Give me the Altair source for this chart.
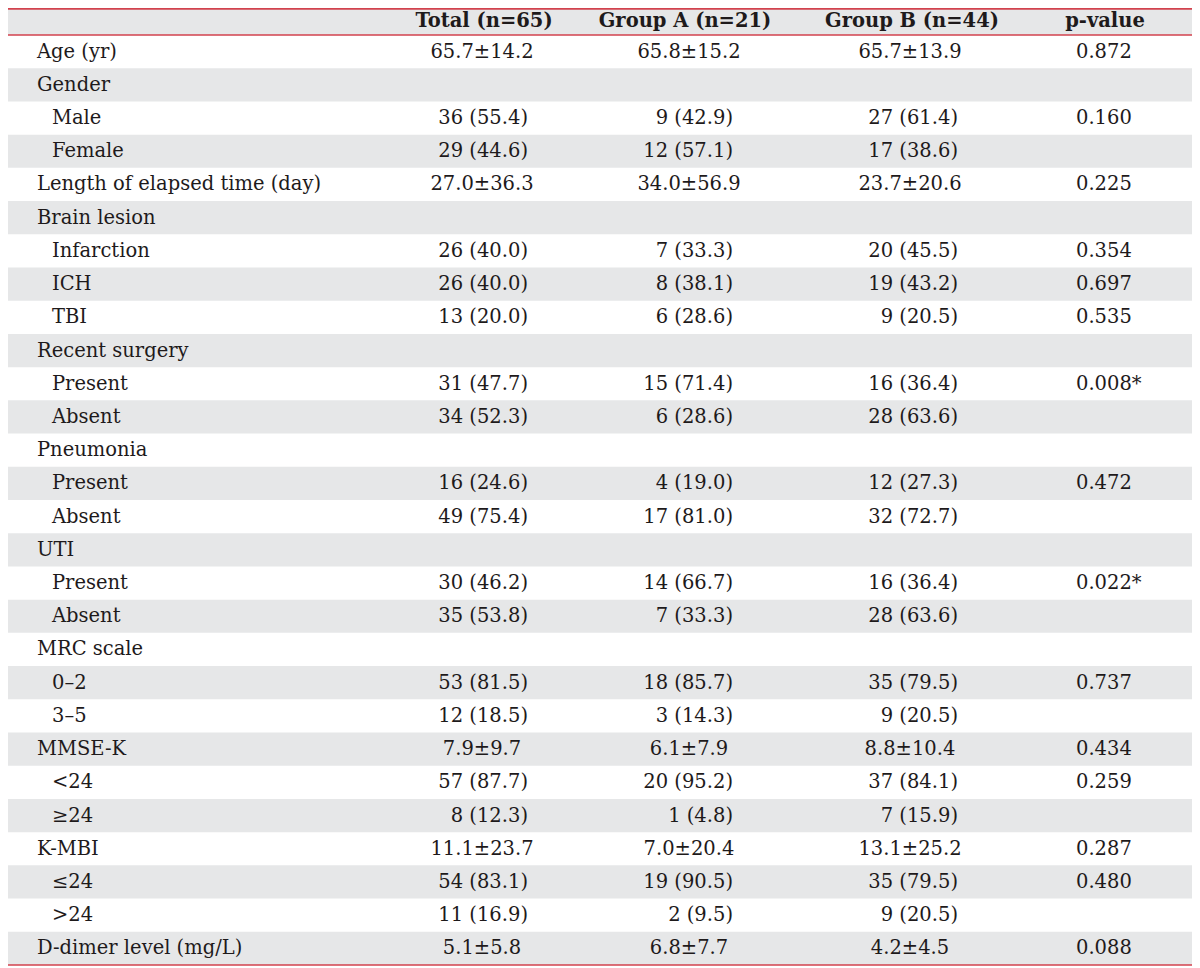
import altair as alt
import pandas as pd

# ---- table content ----
headers = ["Total (n=65)", "Group A (n=21)", "Group B (n=44)", "p-value"]

labels = [
    "Age (yr)", "Gender", "Male", "Female", "Length of elapsed time (day)",
    "Brain lesion", "Infarction", "ICH", "TBI", "Recent surgery", "Present",
    "Absent", "Pneumonia", "Present", "Absent", "UTI", "Present", "Absent",
    "MRC scale", "0\u20132", "3\u20135", "MMSE-K", "<24", "\u226524", "K-MBI",
    "\u226424", ">24", "D-dimer level (mg/L)",
]
indent = [0, 0, 1, 1, 0, 0, 1, 1, 1, 0, 1, 1, 0, 1, 1, 0, 1, 1, 0, 1, 1, 0, 1, 1, 0, 1, 1, 0]

total = [
    "65.7\u00b114.2", "", "36 (55.4)", "29 (44.6)", "27.0\u00b136.3", "",
    "26 (40.0)", "26 (40.0)", "13 (20.0)", "", "31 (47.7)", "34 (52.3)", "",
    "16 (24.6)", "49 (75.4)", "", "30 (46.2)", "35 (53.8)", "", "53 (81.5)",
    "12 (18.5)", "7.9\u00b19.7", "57 (87.7)", "8 (12.3)", "11.1\u00b123.7",
    "54 (83.1)", "11 (16.9)", "5.1\u00b15.8",
]
group_a = [
    "65.8\u00b115.2", "", "9 (42.9)", "12 (57.1)", "34.0\u00b156.9", "",
    "7 (33.3)", "8 (38.1)", "6 (28.6)", "", "15 (71.4)", "6 (28.6)", "",
    "4 (19.0)", "17 (81.0)", "", "14 (66.7)", "7 (33.3)", "", "18 (85.7)",
    "3 (14.3)", "6.1\u00b17.9", "20 (95.2)", "1 (4.8)", "7.0\u00b120.4",
    "19 (90.5)", "2 (9.5)", "6.8\u00b17.7",
]
group_b = [
    "65.7\u00b113.9", "", "27 (61.4)", "17 (38.6)", "23.7\u00b120.6", "",
    "20 (45.5)", "19 (43.2)", "9 (20.5)", "", "16 (36.4)", "28 (63.6)", "",
    "12 (27.3)", "32 (72.7)", "", "16 (36.4)", "28 (63.6)", "", "35 (79.5)",
    "9 (20.5)", "8.8\u00b110.4", "37 (84.1)", "7 (15.9)", "13.1\u00b125.2",
    "35 (79.5)", "9 (20.5)", "4.2\u00b14.5",
]
p_values = [
    "0.872", "", "0.160", "", "0.225", "", "0.354", "0.697", "0.535", "",
    "0.008*", "", "", "0.472", "", "", "0.022*", "", "", "0.737", "", "0.434",
    "0.259", "", "0.287", "0.480", "", "0.088",
]

# ---- layout (style only): anchor -> (x pixel, alignment, bold) ----
W, H = 1184, 960
n_rows = len(labels)
anchors = {
    "label": (29, "left", False),
    "sub": (44, "left", False),
    "tot_c": (474, "center", False),
    "tot_r": (520, "right", False),
    "a_c": (681, "center", False),
    "a_r": (725, "right", False),
    "b_c": (902, "center", False),
    "b_r": (950, "right", False),
    "p_l": (1068, "left", False),
    "h_tot": (476, "center", True),
    "h_a": (677, "center", True),
    "h_b": (904, "center", True),
    "h_p": (1097, "center", True),
}
Y_TOP = -0.313          # visible top of the header row (header band is a bit shorter)
Y_BOTTOM = n_rows + 0.59

FONT = "DejaVu Serif"
FS = 19.5
TXT = "#1e1a1b"
SHADE = "#e6e7e8"
RED = "#d2424e"

# ---- build tables ----
cells = []
for i, h in enumerate(headers):
    cells.append({"row": 0, "key": ["h_tot", "h_a", "h_b", "h_p"][i], "text": h})
for r in range(n_rows):
    row = r + 1
    cells.append({"row": row, "key": "sub" if indent[r] else "label", "text": labels[r]})
    for val, kc, kr in [(total[r], "tot_c", "tot_r"), (group_a[r], "a_c", "a_r"), (group_b[r], "b_c", "b_r")]:
        if val:
            cells.append({"row": row, "key": kc if "\u00b1" in val else kr, "text": val})
    if p_values[r]:
        cells.append({"row": row, "key": "p_l", "text": p_values[r]})
cells_df = pd.DataFrame(cells)

bands_df = pd.DataFrame({"row": list(range(0, n_rows + 1))})
bands_df = bands_df[bands_df["row"] % 2 == 0].copy()
bands_df["y0"] = (bands_df["row"] - 0.5).clip(lower=Y_TOP)
bands_df["y1"] = bands_df["row"] + 0.5

rules_df = pd.DataFrame({"pos": [Y_TOP + 0.025, 0.5, n_rows + 0.5]})

yscale = alt.Scale(domain=[Y_BOTTOM, Y_TOP], nice=False, zero=False)

bands = alt.Chart(bands_df).mark_rect(color=SHADE).encode(
    y=alt.Y("y0:Q", scale=yscale, axis=None),
    y2="y1:Q",
    x=alt.value(0),
    x2=alt.value(W),
)

rules = alt.Chart(rules_df).mark_rule(color=RED, strokeWidth=1.6).encode(
    y=alt.Y("pos:Q", scale=yscale, axis=None),
    x=alt.value(0),
    x2=alt.value(W),
)

layers = [bands, rules]
for key, (xpos, align, bold) in anchors.items():
    layers.append(
        alt.Chart(cells_df).transform_filter(alt.datum.key == key).mark_text(
            align=align, baseline="middle", font=FONT, fontSize=FS, color=TXT,
            fontWeight="bold" if bold else "normal", dy=3 if bold else 0,
        ).encode(
            x=alt.value(xpos),
            y=alt.Y("row:Q", scale=yscale, axis=None),
            text="text:N",
        )
    )

chart = alt.layer(*layers).properties(
    width=W, height=H, padding=0, autosize=alt.AutoSizeParams(type="none"),
).configure_view(stroke=None)

chart.save("out.html", embed_options={"renderer": "svg", "actions": False})
